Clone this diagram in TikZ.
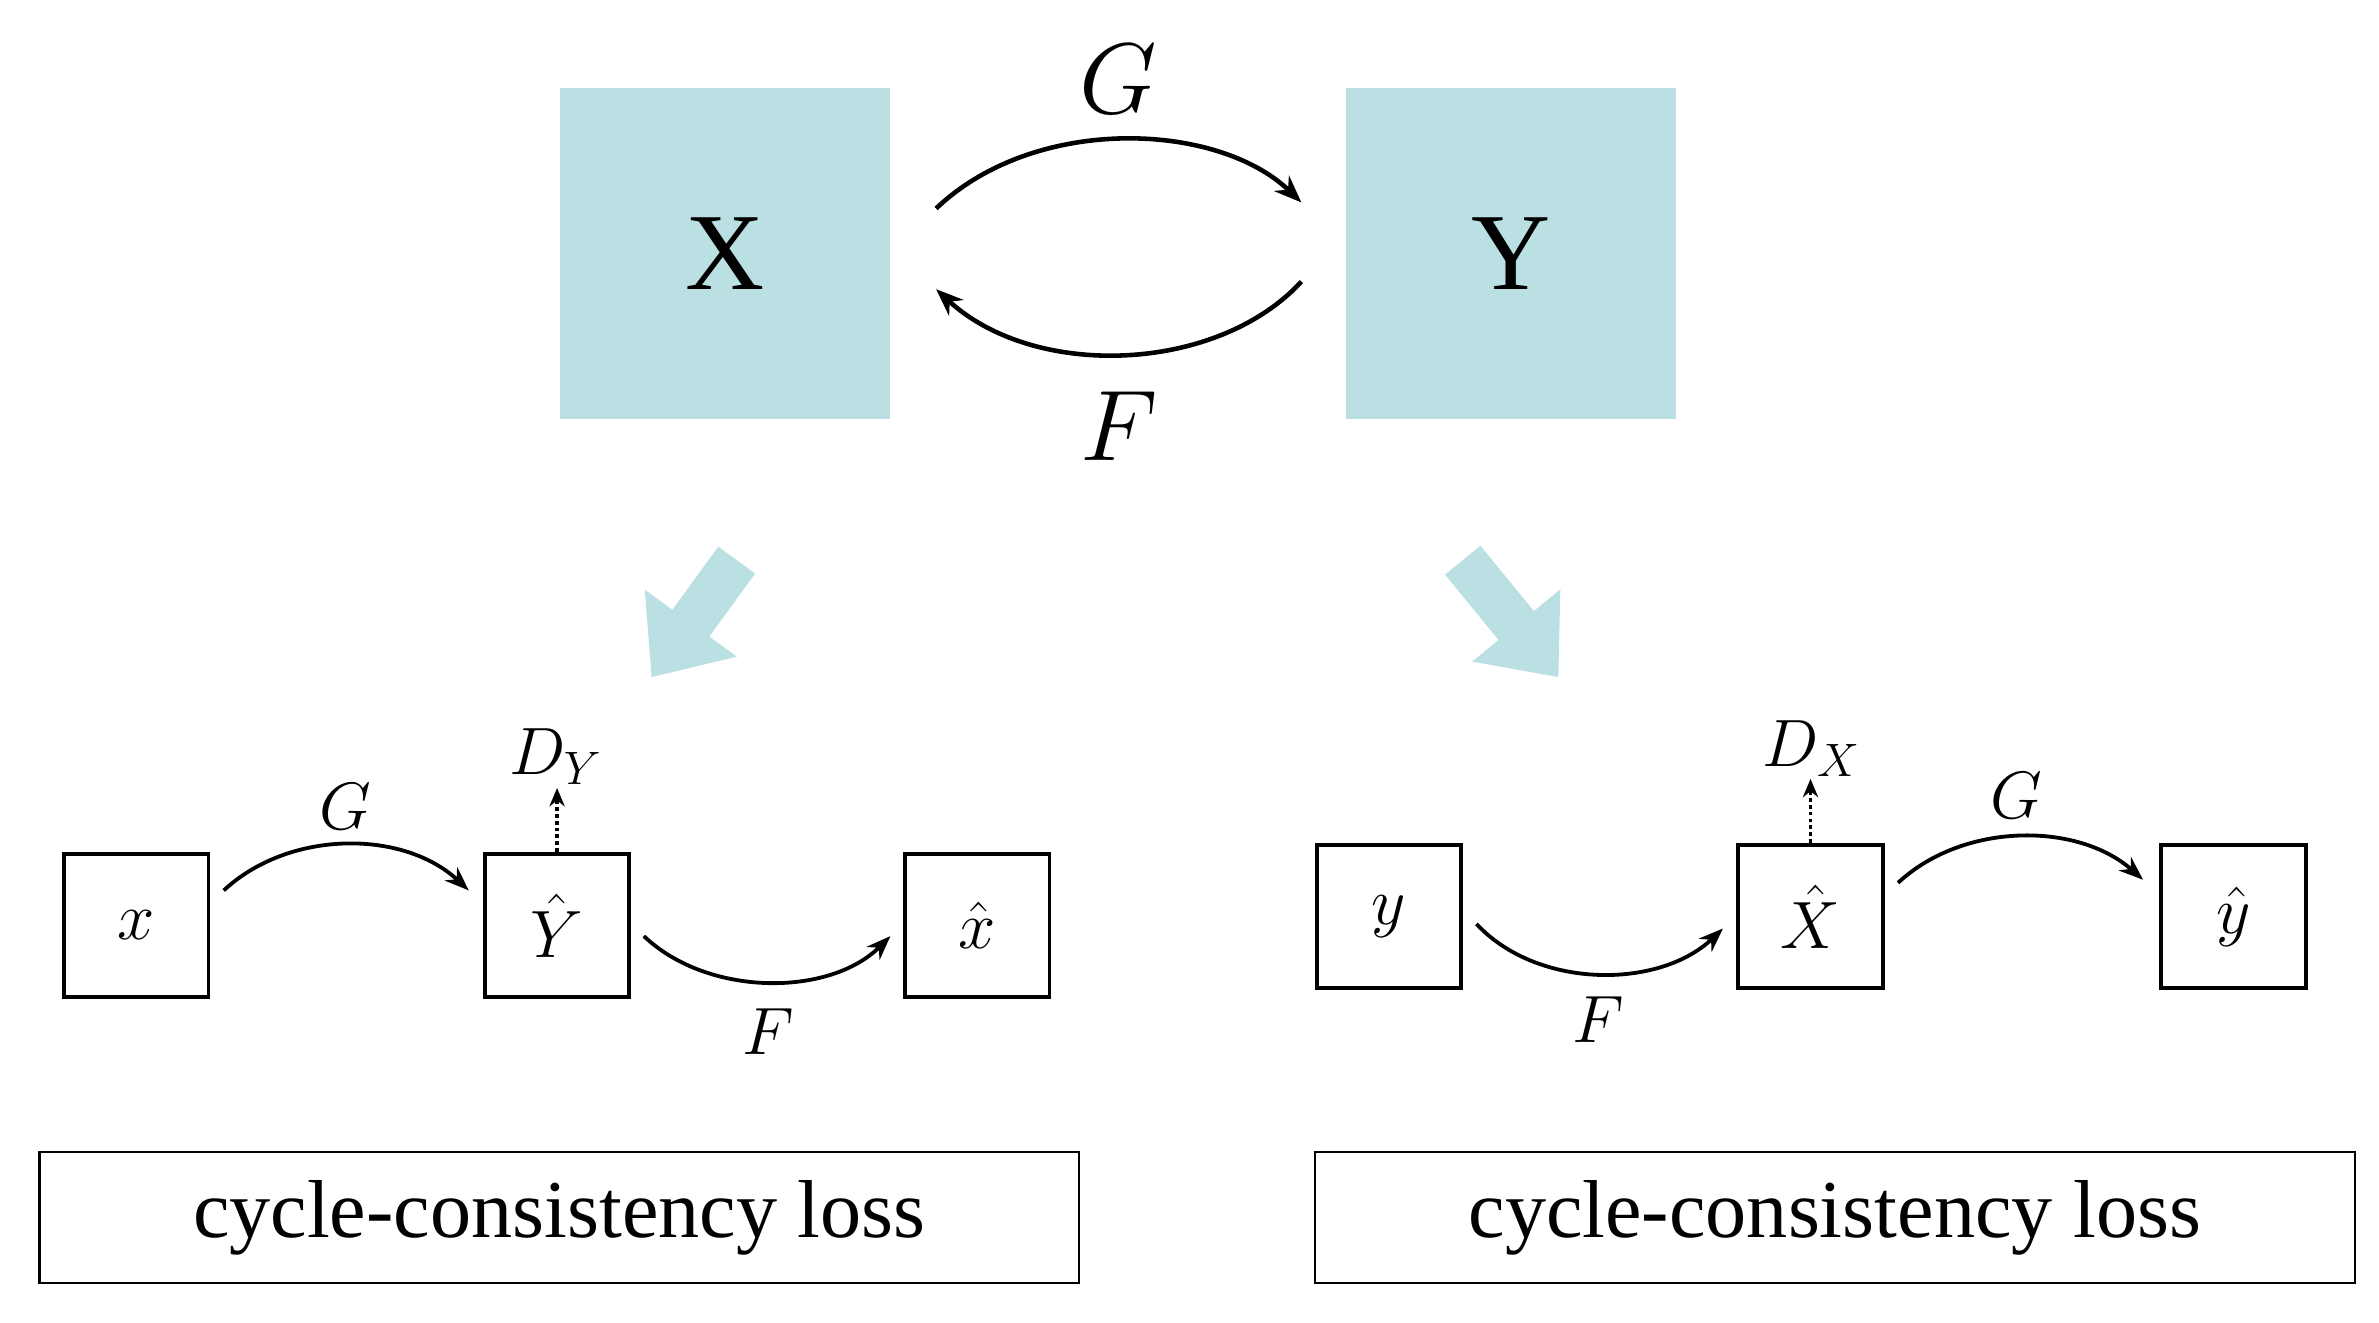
\RequirePackage{fix-cm}
\documentclass[tikz,border=0pt]{standalone}
\usepackage{fontspec}
\setmainfont{Liberation Serif}
\usetikzlibrary{arrows.meta}
\definecolor{lb}{HTML}{BAE0E3}
\begin{document}
\begin{tikzpicture}[x=1pt,y=-1pt,
  big/.style={fill=lb,draw=none,minimum width=217pt,minimum height=217pt,inner sep=0,font=\fontsize{72}{80}\selectfont},
  sm/.style={draw,line width=2.5pt,minimum width=95pt,minimum height=94pt,inner sep=0,font=\fontsize{44}{50}\selectfont},
  lab/.style={font=\fontsize{44}{50}\selectfont,inner sep=0},
  blab/.style={font=\fontsize{66}{72}\selectfont,inner sep=0},
  arc/.style={line width=2.5pt,-{Stealth[length=16pt,width=12pt]}},
  barc/.style={line width=3pt,-{Stealth[length=18pt,width=14pt]}},
  loss/.style={draw,line width=1.5pt,minimum width=683pt,minimum height=86pt,inner sep=0,font=\fontsize{54}{60}\selectfont},
  blk/.style={draw=lb,line width=30pt,-{Triangle[length=44pt,width=72pt]},fill=lb}]
\useasboundingbox (0,0) rectangle (1563,869);
\node[big] (X) at (476.5,166.5) {X};
\node[big] (Y) at (992.5,166.5) {Y};
\coordinate (g1) at (615,137); \coordinate (g2) at (855,133);
\coordinate (f1) at (855,185); \coordinate (f2) at (615,190);
\draw[barc] (g1) .. controls (680,75) and (800,80) .. (g2);
\draw[barc] (f1) .. controls (800,245) and (680,250) .. (f2);
\node[blab] (G) at (735,52) {$G$};
\node[blab] (F) at (735,280) {$F$};
\coordinate (a1s) at (484,368); \coordinate (a1e) at (428,445);
\coordinate (a2s) at (961,368); \coordinate (a2e) at (1024,445);
\draw[blk] (a1s) -- (a1e);
\draw[blk] (a2s) -- (a2e);
% left
\node[sm] (x) at (89.5,608) {$x$};
\node[sm] (Yh) at (366,608) {$\hat{Y}$};
\node[sm] (xh) at (642,608) {$\hat{x}$};
\draw[arc] (147,585) .. controls (190,545) and (265,545) .. (308,585);
\draw[arc] (423,615) .. controls (465,655) and (545,655) .. (585,615);
\node[lab] (Gl) at (227,530) {$G$};
\node[lab] (Fl) at (505,678) {$F$};
\node[lab] (DY) at (365,497) {$D_Y$};
\draw[line width=2.5pt,dotted,-{Stealth[length=12pt,width=10pt]}] (Yh.north) -- ++(0,-42);
% right
\node[sm] (y) at (912.5,602) {$y$};
\node[sm] (Xh) at (1189.5,602) {$\hat{X}$};
\node[sm] (yh) at (1467.5,602) {$\hat{y}$};
\draw[arc] (970,607) .. controls (1010,650) and (1090,650) .. (1132,610);
\draw[arc] (1247,580) .. controls (1290,540) and (1365,540) .. (1408,578);
\node[lab] (Fr) at (1050,670) {$F$};
\node[lab] (Gr) at (1325,523) {$G$};
\node[lab] (DX) at (1190,492) {$D_X$};
\draw[line width=2.5pt,dotted,-{Stealth[length=12pt,width=10pt]}] (Xh.north) -- ++(0,-42);
\node[loss] (L1) at (367.5,800) {cycle-consistency loss};
\node[loss] (L2) at (1205.5,800) {cycle-consistency loss};
\end{tikzpicture}
\end{document}
